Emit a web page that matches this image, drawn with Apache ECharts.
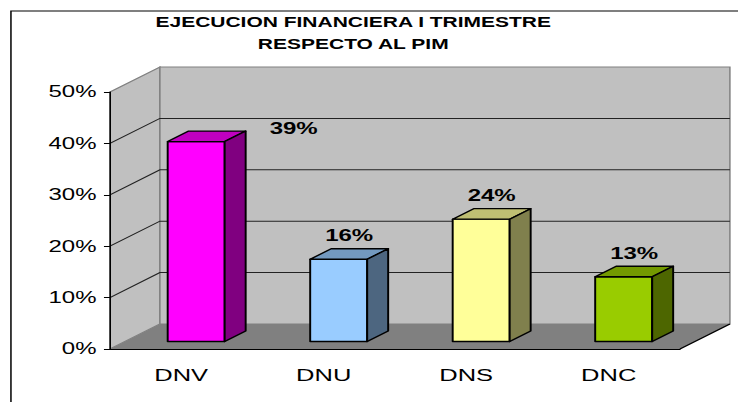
<!DOCTYPE html>
<html>
<head>
<meta charset="utf-8">
<title>Ejecucion financiera I trimestre</title>
<script src="https://cdn.jsdelivr.net/npm/echarts@6/dist/echarts.min.js"></script>
<style>
  html, body { margin: 0; padding: 0; background: #fff; overflow: hidden; }
  /* the source picture is stretched sideways: draw at 2/3 width and widen it */
  #main { width: 492px; height: 402px; transform: scaleX(1.5); transform-origin: 0 0; }
</style>
</head>
<body>
<div id="main"></div>
<script>
var categories = ['DNV', 'DNU', 'DNS', 'DNC'];
var ejecucion = [0.389, 0.16, 0.238, 0.126];
var pctTicks = [0, 0.1, 0.2, 0.3, 0.4, 0.5];

var frontColors = ['#ff00ff', '#99ccff', '#ffff99', '#99cc00'];
var topColors = ['#c000c0', '#7399bf', '#bfbf73', '#739900'];
var sideColors = ['#800080', '#4d6680', '#80804d', '#4d6600'];

// 3d look: depth of the floor, and where the bars sit in that depth
var DX = 33.3, DY = 25;
var BAR_FROM = 0.3, BAR_TO = 0.72;
var BAR_W = 0.4;

function pct(v) { return Math.round(v * 100) + '%'; }

function renderWalls(params, api) {
  var cs = params.coordSys;
  var x0 = cs.x, x1 = cs.x + cs.width;
  var yTop = cs.y, yBot = cs.y + cs.height;
  var kids = [];
  // side wall
  kids.push({type: 'polygon', shape: {points: [[x0, yTop], [x0 + DX, yTop - DY], [x0 + DX, yBot - DY], [x0, yBot]]},
    style: {fill: '#c0c0c0', stroke: '#808080', lineWidth: 1}});
  // back wall
  kids.push({type: 'rect', shape: {x: x0 + DX, y: yTop - DY, width: cs.width, height: cs.height},
    style: {fill: '#c0c0c0', stroke: '#808080', lineWidth: 1}});
  // floor
  kids.push({type: 'polygon', shape: {points: [[x0, yBot], [x1, yBot], [x1 + DX, yBot - DY], [x0 + DX, yBot - DY]]},
    style: {fill: '#808080'}});
  for (var i = 1; i < pctTicks.length - 1; i++) {
    var y = api.coord([0, pctTicks[i]])[1];
    kids.push({type: 'polyline', shape: {points: [[x0, y], [x0 + DX, y - DY], [x1 + DX, y - DY]]},
      style: {stroke: '#222', lineWidth: 1, fill: null}});
  }
  kids.push({type: 'line', shape: {x1: x1, y1: yBot, x2: x1 + DX, y2: yBot - DY}, style: {stroke: '#000', lineWidth: 1}});
  return {type: 'group', children: kids};
}

function renderBar(params, api) {
  var i = params.dataIndex;
  var base = api.coord([api.value(0), 0]);
  var top = api.coord([api.value(0), api.value(1)]);
  var w = api.size([1, 0])[0] * BAR_W;
  var xl = base[0] - w / 2 + BAR_FROM * DX;
  var xr = xl + w;
  var yb = base[1] - BAR_FROM * DY;
  var yt = top[1] - BAR_FROM * DY;
  var bx = (BAR_TO - BAR_FROM) * DX, by = (BAR_TO - BAR_FROM) * DY;
  var line = {stroke: '#000', lineWidth: 1.3, lineJoin: 'round'};
  var lx = (xl + xr) / 2 + bx / 2, ly = yt - by - 13;
  if (i === 0) { lx += 58; ly += 10; } // excel moved this label aside
  return {
    type: 'group',
    children: [
      {type: 'rect', shape: {x: xl, y: yt, width: w, height: yb - yt},
        style: Object.assign({fill: frontColors[i]}, line)},
      {type: 'polygon', shape: {points: [[xl, yt], [xr, yt], [xr + bx, yt - by], [xl + bx, yt - by]]},
        style: Object.assign({fill: topColors[i]}, line)},
      {type: 'polygon', shape: {points: [[xr, yt], [xr + bx, yt - by], [xr + bx, yb - by], [xr, yb]]},
        style: Object.assign({fill: sideColors[i]}, line)},
      {type: 'text', x: lx, y: ly,
        style: {text: pct(api.value(1)), fill: '#000', fontSize: 16, fontWeight: 'bold',
          fontFamily: 'Liberation Sans', align: 'center', verticalAlign: 'middle'}}
    ]
  };
}

var chart = echarts.init(document.getElementById('main'), null, {renderer: 'svg'});
var option = {
  backgroundColor: '#fff',
  animation: false,
  title: {
    text: 'EJECUCION FINANCIERA I TRIMESTRE\nRESPECTO AL PIM',
    left: 230.5,
    top: 6,
    textAlign: 'center',
    textStyle: {fontSize: 14, fontWeight: 'bold', fontFamily: 'Liberation Sans', color: '#000', lineHeight: 22}
  },
  graphic: [{
    type: 'rect', z: -10,
    shape: {x: 7.3, y: 11, width: 700, height: 600},
    style: {fill: 'none', stroke: '#000', lineWidth: 1}
  }],
  grid: {left: 73.3, right: 38.7, top: 92, bottom: 53},
  xAxis: {
    type: 'category',
    data: categories,
    z: 5,
    axisLine: {lineStyle: {color: '#000', width: 1}},
    axisTick: {length: 6, lineStyle: {color: '#000'}},
    axisLabel: {fontSize: 17, color: '#000', fontFamily: 'Liberation Sans', margin: 18}
  },
  yAxis: {
    type: 'value',
    min: 0,
    max: 0.5,
    interval: 0.1,
    z: 5,
    axisLine: {show: true, lineStyle: {color: '#000', width: 1}},
    axisTick: {show: true, length: 4, lineStyle: {color: '#000'}},
    axisLabel: {formatter: pct, fontSize: 16, color: '#000', fontFamily: 'Liberation Sans', margin: 9},
    splitLine: {show: false}
  },
  series: [
    {type: 'custom', name: 'walls', silent: true, z: 1, renderItem: renderWalls, data: [[0, 0]]},
    {
      type: 'custom', name: 'Ejecucion', z: 2, renderItem: renderBar,
      encode: {x: 0, y: 1},
      data: categories.map(function (c, i) { return [i, ejecucion[i]]; })
    }
  ]
};
chart.setOption(option);
</script>
</body>
</html>
